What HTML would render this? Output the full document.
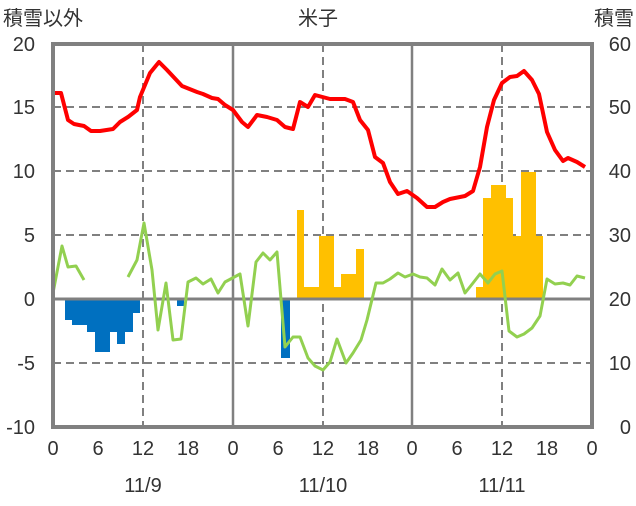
<!DOCTYPE html>
<html><head><meta charset="utf-8"><style>
body{margin:0;background:#fff;}
svg text{font-family:"Liberation Sans","Noto Sans CJK JP",sans-serif;font-size:20px;fill:#333;}
</style></head><body>
<svg width="636" height="501" viewBox="0 0 636 501" xmlns="http://www.w3.org/2000/svg">
<rect width="636" height="501" fill="#fff"/>
<g stroke="#808080" stroke-width="2" stroke-dasharray="8,5" fill="none">
<line x1="53" y1="107" x2="593" y2="107"/><line x1="53" y1="171" x2="593" y2="171"/>
<line x1="53" y1="235" x2="593" y2="235"/><line x1="53" y1="363" x2="593" y2="363"/>
<line x1="143" y1="44" x2="143" y2="427"/><line x1="323" y1="44" x2="323" y2="427"/><line x1="502" y1="44" x2="502" y2="427"/>
</g>
<g stroke="#808080" stroke-width="2.5">
<line x1="233" y1="44" x2="233" y2="427"/><line x1="412" y1="44" x2="412" y2="427"/>
</g>
<g fill="#0070C0">
<rect x="65" y="299" width="7.5" height="21"/><rect x="72" y="299" width="15" height="26"/>
<rect x="87" y="299" width="8" height="33"/><rect x="95" y="299" width="15" height="53"/>
<rect x="110" y="299" width="7.5" height="33"/><rect x="117" y="299" width="8" height="45"/>
<rect x="125" y="299" width="8" height="33"/><rect x="133" y="299" width="7" height="14"/>
<rect x="177" y="299" width="7" height="7"/><rect x="281" y="299" width="9" height="59"/>
</g>
<g fill="#FFC000">
<rect x="297" y="210" width="7" height="89"/><rect x="304" y="287" width="15" height="12"/>
<rect x="319" y="236" width="15" height="63"/><rect x="334" y="287" width="7" height="12"/>
<rect x="341" y="274" width="15" height="25"/><rect x="356" y="249" width="8" height="50"/>
<rect x="476" y="287" width="7" height="12"/><rect x="483" y="198" width="8" height="101"/>
<rect x="491" y="185" width="15" height="114"/><rect x="506" y="198" width="7" height="101"/>
<rect x="513" y="236" width="8" height="63"/><rect x="521" y="172" width="15" height="127"/>
<rect x="536" y="236" width="7" height="63"/>
</g>
<line x1="53" y1="299" x2="593" y2="299" stroke="#808080" stroke-width="3"/>
<g fill="none" stroke="#92D050" stroke-width="3" stroke-linejoin="round">
<polyline points="53,293 62,246 68,267 76,266 84,280"/>
<polyline points="128,277 137,260 144,223 152,270 158,330 166,283 173,340 181,339 188,282 196,278 203,284 211,279 218,293 225,282 240,274 248,326 256,262 263,253 270,260 277,252 285,347 293,337 300,337 308,358 315,366 323,370 330,362 337,339 346,363 353,353 361,340 367,320 376,283 383,283 390,279 398,273 405,277 413,274 420,277 427,278 435,285 442,269 450,280 458,273 465,293 473,283 480,274 488,283 495,274 502,271 509,331 517,337 524,334 532,328 540,316 547,279 555,284 563,283 570,285 577,276 585,278"/>
</g>
<polyline fill="none" stroke="#FF0000" stroke-width="4" stroke-linejoin="round" points="53,93 61,93 68,120 74,124 84,126 91,131 100,131 113,129 120,122 128,117 137,110 140,97 150,73 159,62 167,70 182,86 197,92 203,94 212,98 218,99 225,105 233,110 242,122 248,127 257,115 267,117 277,120 285,127 293,129 300,102 308,107 315,95 330,99 345,99 353,102 360,120 368,130 375,157 383,163 390,182 398,194 407,191 417,198 427,207 435,207 443,202 450,199 465,196 473,191 480,167 487,127 494,100 502,83 510,77 517,76 524,71 532,80 539,94 547,132 555,150 563,161 568,158 577,162 585,167"/>
<rect x="53" y="44" width="539" height="383" fill="none" stroke="#808080" stroke-width="4"/>
<g text-anchor="end">
<text x="35" y="51">20</text><text x="35" y="114">15</text><text x="35" y="178">10</text>
<text x="35" y="242">5</text><text x="35" y="306">0</text><text x="35" y="370">-5</text><text x="35" y="434">-10</text>
</g>
<g text-anchor="end">
<text x="631" y="51">60</text><text x="631" y="114">50</text><text x="631" y="178">40</text>
<text x="631" y="242">30</text><text x="631" y="306">20</text><text x="631" y="370">10</text><text x="631" y="434">0</text>
</g>
<g text-anchor="middle">
<text x="53" y="455">0</text><text x="98" y="455">6</text><text x="143" y="455">12</text><text x="188" y="455">18</text>
<text x="233" y="455">0</text><text x="278" y="455">6</text><text x="323" y="455">12</text><text x="368" y="455">18</text>
<text x="412" y="455">0</text><text x="457" y="455">6</text><text x="502" y="455">12</text><text x="547" y="455">18</text>
<text x="592" y="455">0</text>
<text x="143" y="492">11/9</text><text x="323" y="492">11/10</text><text x="502" y="492">11/11</text>
<text x="318" y="25">米子</text>
</g>
<text x="3" y="25">積雪以外</text>
<text x="634" y="25" text-anchor="end">積雪</text>
</svg>
</body></html>
